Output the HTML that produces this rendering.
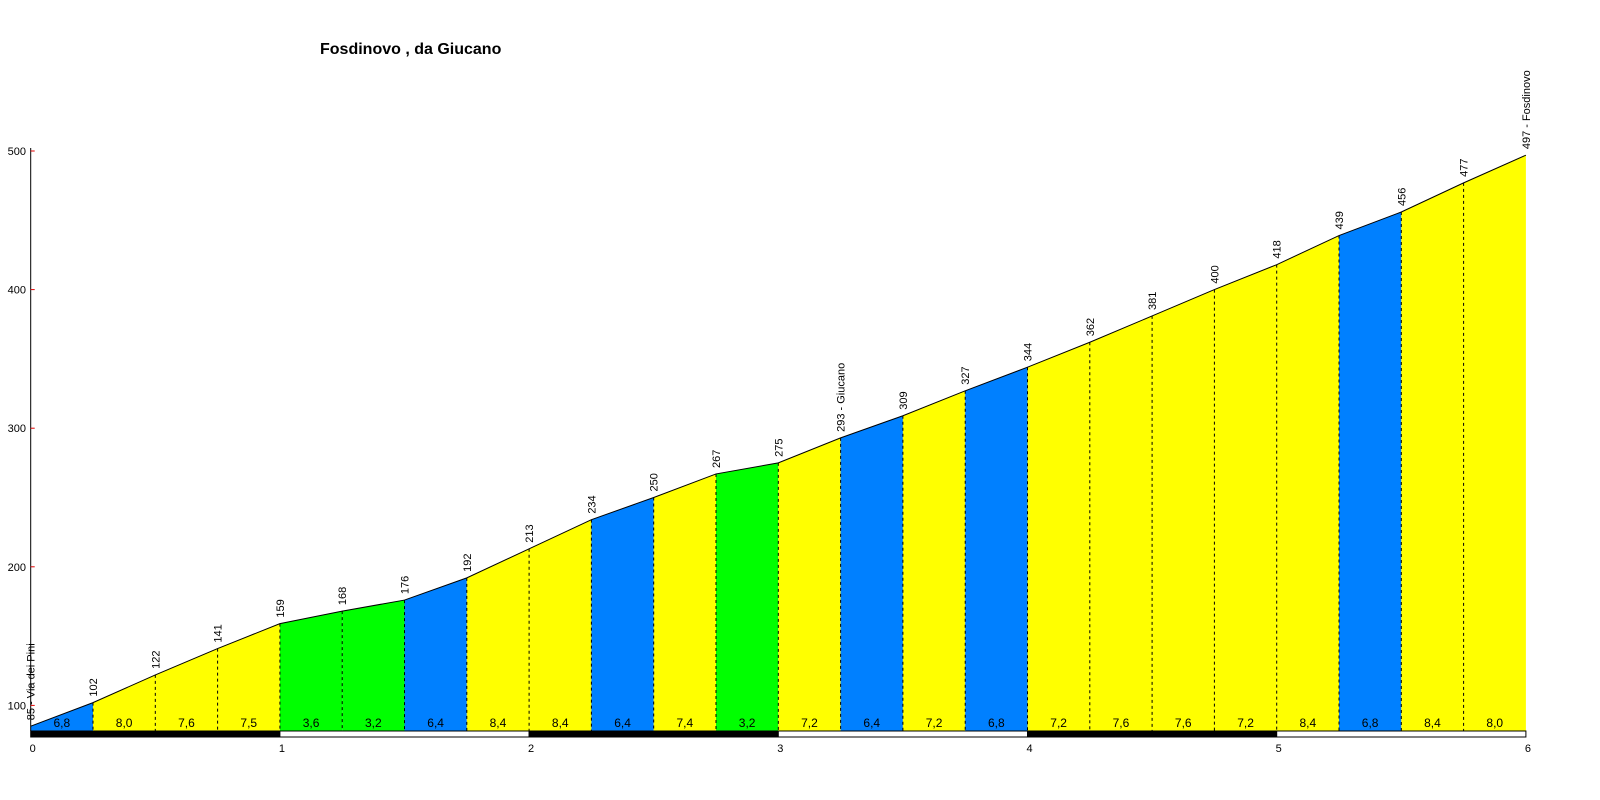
<!DOCTYPE html>
<html><head><meta charset="utf-8"><style>
body{margin:0;background:#fff;width:1600px;height:800px;overflow:hidden}
svg{display:block;font-family:"Liberation Sans",sans-serif}
</style></head><body>
<svg id="chart" width="1600" height="800" viewBox="0 0 1600 800">
<text x="320" y="54" font-size="16" font-weight="bold">Fosdinovo , da Giucano</text>
<g id="segs"></g>
<g id="axes"></g>
</svg>
<script>
const distances = [0,0.25,0.5,0.75,1,1.25,1.5,1.75,2,2.25,2.5,2.75,3,3.25,3.5,3.75,4,4.25,4.5,4.75,5,5.25,5.5,5.75,6];
const elevations = [85,102,122,141,159,168,176,192,213,234,250,267,275,293,309,327,344,362,381,400,418,439,456,477,497];
const grades = ["6,8","8,0","7,6","7,5","3,6","3,2","6,4","8,4","8,4","6,4","7,4","3,2","7,2","6,4","7,2","6,8","7,2","7,6","7,6","7,2","8,4","6,8","8,4","8,0"];
const pointNames = {0:"Via dei Pini",13:"Giucano",24:"Fosdinovo"};
const yTicks = [100,200,300,400,500];
const xTicks = [0,1,2,3,4,5,6];
const NS="http://www.w3.org/2000/svg";
const X0=30.7, KM=249.2, Y100=705.4, PX=1.386, BASE=731;
const x=d=>X0+d*KM, y=v=>Y100-(v-100)*PX;
function mk(t,a,p){const e=document.createElementNS(NS,t);for(const k in a)e.setAttribute(k,a[k]);p.appendChild(e);return e;}
const segs=document.getElementById('segs'), axes=document.getElementById('axes');
for(let i=0;i<grades.length;i++){
  const g=parseFloat(grades[i].replace(',','.'));
  const col=g<5?'#00ff00':(g<7?'#0080ff':'#ffff00');
  const x1=x(distances[i]),x2=x(distances[i+1]);
  const p=mk('polygon',{points:`${x1},${BASE} ${x1},${y(elevations[i])} ${x2},${y(elevations[i+1])} ${x2},${BASE}`,fill:col},segs);
  
  
  const t=mk('text',{x:(x1+x2)/2,y:727,'font-size':12,'text-anchor':'middle',fill:'#000'},segs);
  t.textContent=grades[i];
  
  
}
for(let i=1;i<distances.length-1;i++){
  const l=mk('line',{x1:x(distances[i]),x2:x(distances[i]),y1:y(elevations[i]),y2:BASE,stroke:'#000','stroke-dasharray':'3,3'},segs);
  
  
}
const pts=distances.map((d,i)=>x(d)+','+y(elevations[i])).join(' ');
const pl=mk('polyline',{points:pts,fill:'none',stroke:'#000','stroke-width':1},segs);


distances.forEach((d,i)=>{
  const px=x(d)+4, py=y(elevations[i])-6;
  const t=mk('text',{x:px,y:py,'font-size':11,transform:`rotate(-90 ${px} ${py})`},segs);
  t.textContent=elevations[i]+(pointNames[i]?' - '+pointNames[i]:'');
  
  
});
const ax=mk('line',{x1:X0,x2:X0,y1:148,y2:BASE,stroke:'#000'},axes);


yTicks.forEach(v=>{
  const tk=mk('line',{x1:X0,x2:X0+4,y1:y(v),y2:y(v),stroke:'#e00000'},axes);
  
  
  const t=mk('text',{x:26,y:y(v)+4,'font-size':11,'text-anchor':'end'},axes);
  t.textContent=v;
  
  
});
for(let k=0;k<xTicks.length-1;k++){
  const r=mk('rect',{x:x(xTicks[k]),y:BASE,width:KM,height:6,fill:k%2?'#fff':'#000',stroke:'#000'},axes);
  
  
}
xTicks.forEach(v=>{
  const t=mk('text',{x:x(v)+2,y:752,'font-size':11,'text-anchor':'middle'},axes);
  t.textContent=v;
  
  
});
</script>
</body></html>
